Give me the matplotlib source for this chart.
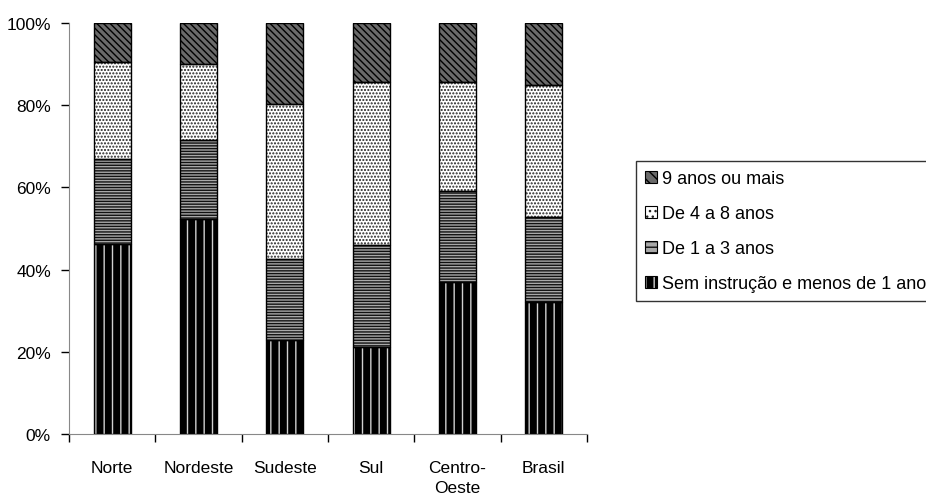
import matplotlib
matplotlib.use("Agg")
import matplotlib.pyplot as plt
from matplotlib.patches import Patch
from matplotlib.legend_handler import HandlerTuple
import numpy as np

categories = ["Norte", "Nordeste", "Sudeste", "Sul", "Centro-\nOeste", "Brasil"]
sem_instrucao = [46.2, 52.3, 22.9, 21.2, 37.1, 32.2]
de_1_a_3 = [20.7, 19.3, 19.7, 24.8, 22.1, 20.5]
de_4_a_8 = [23.5, 18.4, 37.7, 39.6, 26.4, 32.1]
nove_ou_mais = [9.6, 10.0, 19.7, 14.4, 14.4, 15.2]
series_labels = ["Sem instrução e menos de 1 ano", "De 1 a 3 anos",
                 "De 4 a 8 anos", "9 anos ou mais"]
yticks = [0, 20, 40, 60, 80, 100]

plt.rcParams['font.family'] = ["Liberation Sans", "DejaVu Sans"]
plt.rcParams['hatch.linewidth'] = 1.0
tick_fs = 12.5
leg_fs = 13

fig = plt.figure(figsize=(9.26, 5.02), dpi=100)
ax = fig.add_axes([69/926, 1-435/502, (587-69)/926, (435-24)/502])

styles = [
    dict(face="black", hatch="||", hc="#d0d0d0"),
    dict(face="#a8a8a8", hatch="------", hc="#111111"),
    dict(face="white", hatch=".....", hc="#222222"),
    dict(face="#6a6a6a", hatch="\\\\\\\\\\", hc="black"),
]
data = [sem_instrucao, de_1_a_3, de_4_a_8, nove_ou_mais]
x = np.arange(len(categories))
w = 0.43
bottom = np.zeros(len(categories))
handles = []
for vals, st, lab in zip(data, styles, series_labels):
    vals = np.array(vals)
    ax.bar(x, vals, w, bottom=bottom, color=st["face"], hatch=st["hatch"],
           edgecolor=st["hc"], linewidth=0, zorder=2)
    ax.bar(x, vals, w, bottom=bottom, fill=False, edgecolor="black",
           linewidth=1.0, zorder=3)
    bottom += vals
    p1 = Patch(facecolor=st["face"], hatch=st["hatch"][:3], edgecolor=st["hc"], linewidth=0)
    p2 = Patch(fill=False, edgecolor="black", linewidth=0.8)
    handles.append((p1, p2))

ax.set_xlim(-0.5, len(categories) - 0.5)
ax.set_ylim(0, 100)
ax.set_yticks(yticks)
ax.set_yticklabels([f"{v}%" for v in yticks], fontsize=tick_fs)
ax.set_xticks(x)
ax.set_xticklabels(categories, fontsize=tick_fs, linespacing=1.35)
ax.set_xticks(np.arange(len(categories) + 1) - 0.5, minor=True)
ax.tick_params(axis="x", which="major", length=0, pad=19)
ax.tick_params(axis="x", which="minor", length=6, width=1, color="black", direction="out")
ax.tick_params(axis="y", length=6, width=1, direction="out", pad=7)
for s in ["top", "right"]:
    ax.spines[s].set_visible(False)
ax.spines["left"].set_color("#888888")
ax.spines["bottom"].set_color("#888888")

leg = fig.legend(handles[::-1], series_labels[::-1],
                 handler_map={tuple: HandlerTuple(ndivide=1)},
                 loc="upper left", bbox_to_anchor=(636/926, 1-162/502),
                 fontsize=leg_fs, frameon=True, fancybox=False,
                 edgecolor="black", handlelength=0.65, handleheight=0.65,
                 handletextpad=0.3, labelspacing=1.0, borderpad=0.5,
                 borderaxespad=0)
leg.get_frame().set_linewidth(1.0)

fig.savefig("out.png", dpi=100)
